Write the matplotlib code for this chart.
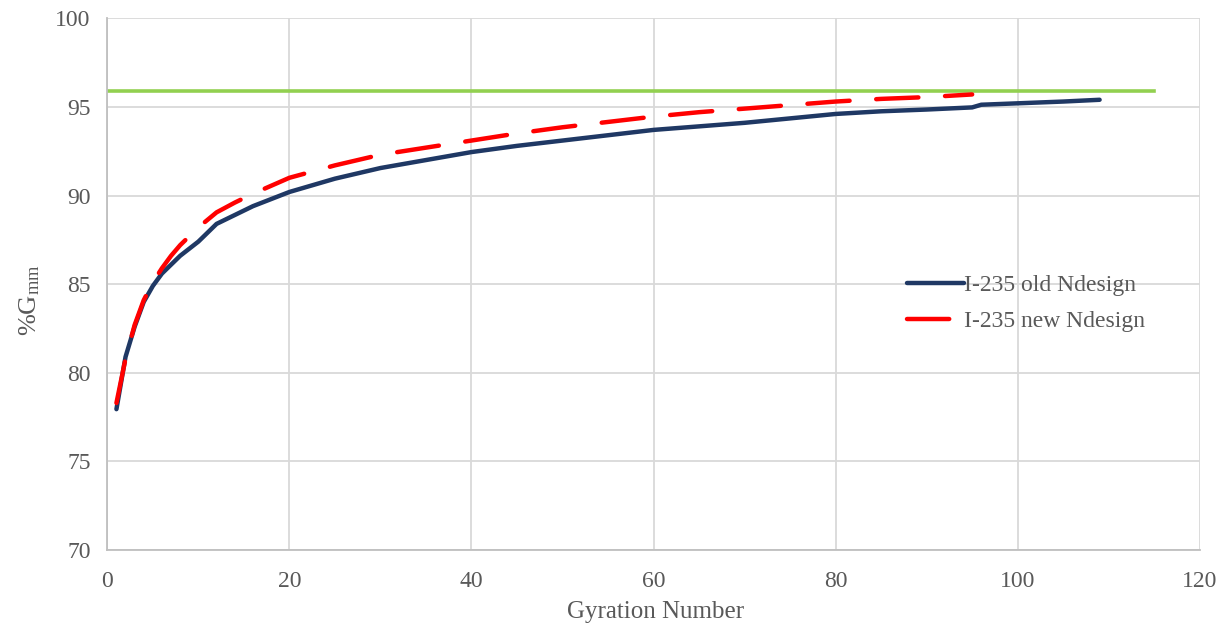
import matplotlib
matplotlib.use("Agg")
import matplotlib.pyplot as plt

plt.rcParams['font.family'] = ['Liberation Serif', 'DejaVu Serif']
plt.rcParams['mathtext.fontset'] = 'custom'
plt.rcParams['mathtext.rm'] = 'Liberation Serif'
plt.rcParams['mathtext.it'] = 'Liberation Serif:italic'

# Gyratory compaction curves (%Gmm vs gyration number)
old_gyrations = [1, 2, 3, 4, 5, 6, 7, 8, 9, 10, 11, 12, 14, 16, 18, 20, 25, 30,
                 35, 40, 45, 50, 55, 60, 65, 70, 76, 80, 85, 90, 95, 96, 100,
                 105, 109]
old_gmm = [77.95, 80.9, 82.6, 84.0, 84.9, 85.6, 86.1, 86.6, 87.0, 87.4, 87.9,
           88.4, 88.9, 89.4, 89.8, 90.2, 90.95, 91.55, 92.0, 92.45, 92.8, 93.1,
           93.4, 93.7, 93.9, 94.1, 94.4, 94.6, 94.75, 94.85, 94.97, 95.12,
           95.2, 95.3, 95.4]

new_gyrations = [1, 2, 3, 4, 5, 6, 7, 8, 9, 10, 12, 14, 16, 18, 20, 25, 30, 35,
                 40, 45, 50, 55, 60, 65, 70, 75, 80, 85, 90, 95]
new_gmm = [78.3, 80.8, 82.7, 84.1, 85.1, 85.9, 86.6, 87.2, 87.7, 88.2, 89.05,
           89.6, 90.1, 90.55, 91.0, 91.7, 92.3, 92.7, 93.1, 93.5, 93.85, 94.15,
           94.45, 94.7, 94.9, 95.1, 95.3, 95.45, 95.55, 95.7]

# Maximum density criterion line
criterion_x = [0, 115]
criterion_gmm = [95.9, 95.9]

x_ticks = [0, 20, 40, 60, 80, 100, 120]
y_ticks = [70, 75, 80, 85, 90, 95, 100]

fig = plt.figure(figsize=(12.28, 6.28), dpi=100)
ax = fig.add_axes([0.0874, 0.124, 0.8896, 0.847])

ax.plot(criterion_x, criterion_gmm, color='#92D050', lw=2.6, zorder=2)
ax.plot(old_gyrations, old_gmm, color='#1F3864', lw=3.2,
        solid_capstyle='round', solid_joinstyle='round',
        label='I-235 old Ndesign', zorder=3)
ax.plot(new_gyrations, new_gmm, color='#FF0000', lw=3.2,
        dashes=(9.5, 6.0), dash_capstyle='round',
        label='I-235 new Ndesign', zorder=4)

ax.set_xlim(0, 120)
ax.set_ylim(70, 100)
ax.set_xticks(x_ticks)
ax.set_yticks(y_ticks)
ax.grid(True, color='#D9D9D9', lw=1.3)
ax.set_axisbelow(True)
ax.tick_params(length=0, labelsize=17, labelcolor='#595959')
ax.tick_params(axis='x', pad=15)
ax.tick_params(axis='y', pad=12)

for side in ('top', 'right'):
    ax.spines[side].set_visible(False)
for side in ('left', 'bottom'):
    ax.spines[side].set_color('#BFBFBF')
    ax.spines[side].set_linewidth(1.3)

ax.set_xlabel('Gyration Number', fontsize=18, color='#595959')
ax.xaxis.set_label_coords(0.502, -0.096)
ax.set_ylabel('%G$_{\\mathrm{mm}}$', fontsize=19, color='#595959')
ax.yaxis.set_label_coords(-0.060, 0.47)

leg = ax.legend(loc='upper left', bbox_to_anchor=(0.713, 0.558), frameon=False,
                fontsize=17, labelcolor='#595959', handlelength=2.4,
                handletextpad=0.0, labelspacing=0.6)

fig.savefig('out.png', dpi=100)
